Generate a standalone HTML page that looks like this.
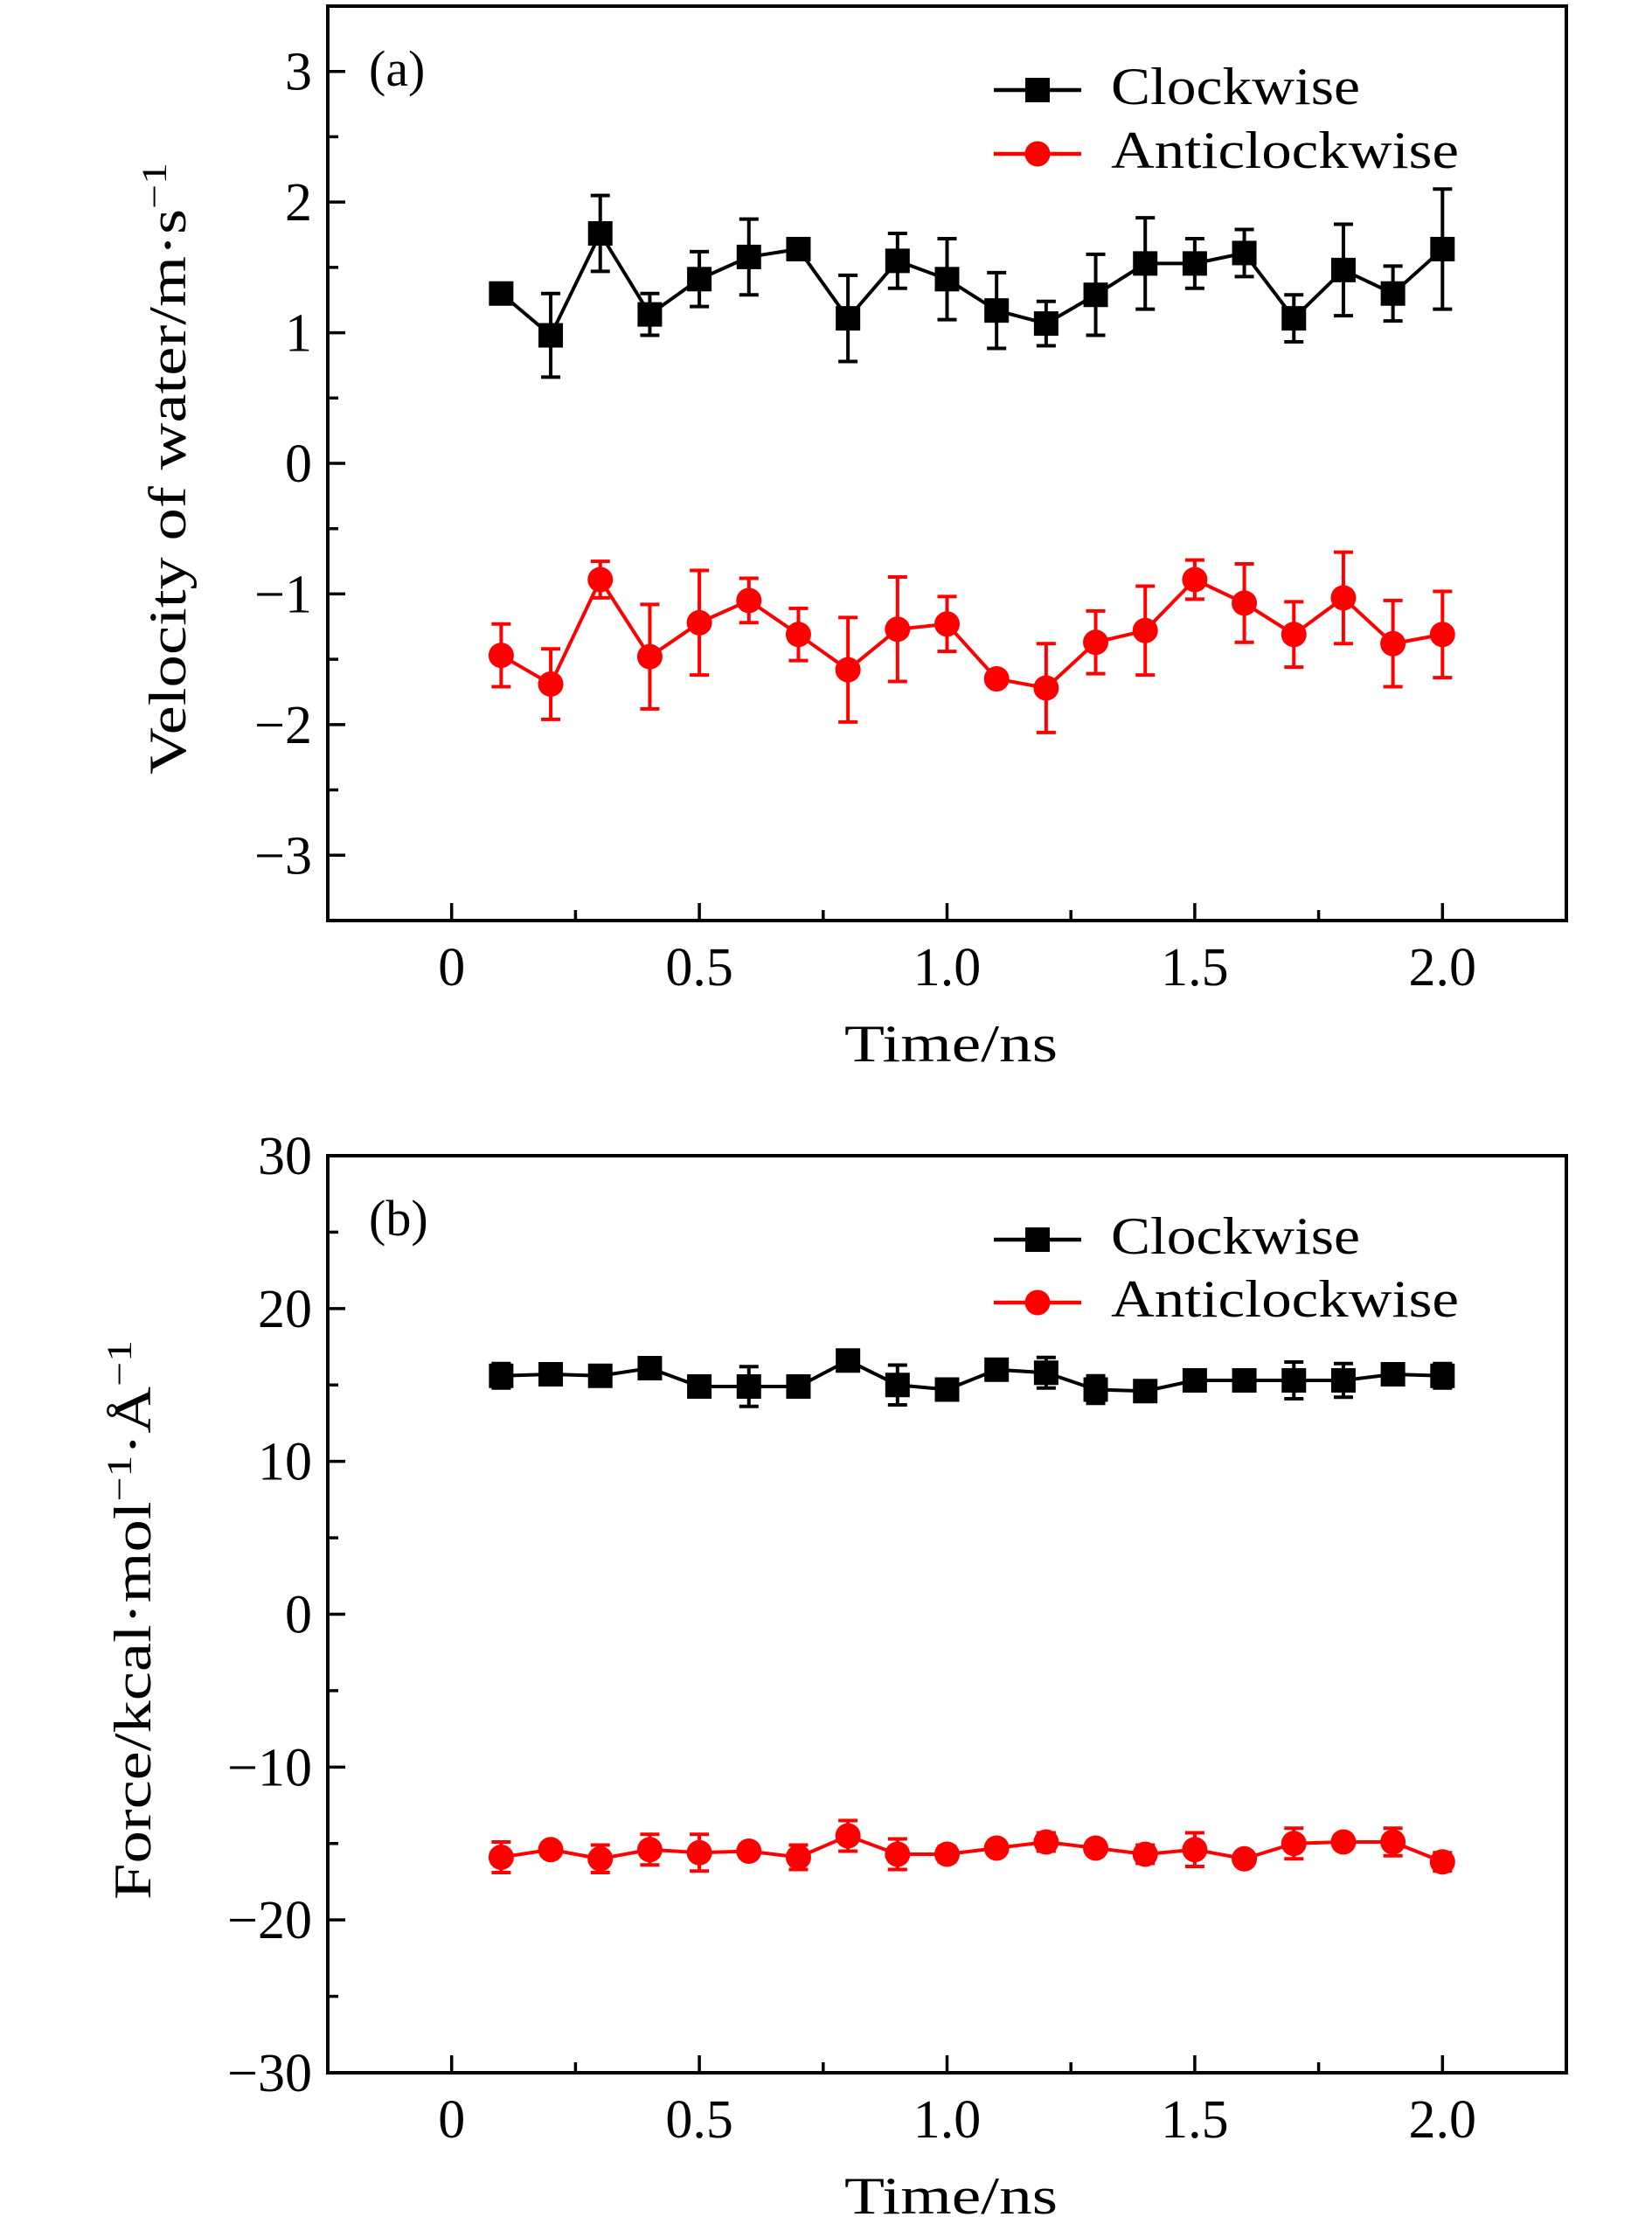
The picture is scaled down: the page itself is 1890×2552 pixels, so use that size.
<!DOCTYPE html>
<html><head><meta charset="utf-8"><style>
html,body{margin:0;padding:0;background:#fff}
svg{display:block}
text{font-family:"Liberation Serif",serif;fill:#000}
</style></head><body>
<svg id="chart" width="1890" height="2552" viewBox="0 0 1890 2552" xmlns="http://www.w3.org/2000/svg"></svg>
<script>
const times=[0.1,0.2,0.3,0.4,0.5,0.6,0.7,0.8,0.9,1.0,1.1,1.2,1.3,1.4,1.5,1.6,1.7,1.8,1.9,2.0];
const velCw=[1.30,0.98,1.76,1.14,1.41,1.58,1.64,1.11,1.55,1.41,1.17,1.07,1.29,1.53,1.53,1.61,1.11,1.48,1.30,1.64];
const velCwErr=[0.05,0.32,0.29,0.16,0.21,0.29,0.05,0.33,0.21,0.31,0.29,0.17,0.31,0.35,0.19,0.18,0.18,0.35,0.21,0.46];
const velAcw=[-1.47,-1.69,-0.89,-1.48,-1.22,-1.05,-1.31,-1.58,-1.27,-1.23,-1.65,-1.72,-1.37,-1.28,-0.89,-1.07,-1.31,-1.03,-1.38,-1.31];
const velAcwErr=[0.24,0.27,0.14,0.40,0.40,0.17,0.20,0.40,0.40,0.21,0.05,0.34,0.24,0.34,0.15,0.30,0.25,0.35,0.33,0.33];
const forCw=[15.6,15.7,15.6,16.1,14.9,14.9,14.9,16.6,15.0,14.7,16.0,15.8,14.7,14.6,15.3,15.3,15.3,15.3,15.7,15.6];
const forCwErr=[0.8,0.3,0.3,0.3,0.4,1.3,0.3,0.3,1.3,0.4,0.3,1.0,0.9,0.3,0.3,0.3,1.2,1.1,0.3,0.8];
const forAcw=[-15.9,-15.4,-16.0,-15.4,-15.6,-15.5,-15.9,-14.5,-15.7,-15.7,-15.3,-14.9,-15.3,-15.7,-15.4,-16.0,-15.0,-14.9,-14.9,-16.2];
const forAcwErr=[1.0,0.4,0.9,1.0,1.2,0.4,0.8,1.0,1.0,0.5,0.4,0.6,0.3,0.6,1.1,0.3,1.0,0.3,0.9,0.6];
const xTicks=[0,0.5,1.0,1.5,2.0];
const xTickLabels=["0","0.5","1.0","1.5","2.0"];
const velTicks=[-3,-2,-1,0,1,2,3];
const velTickLabels=["−3","−2","−1","0","1","2","3"];
const forTicks=[-30,-20,-10,0,10,20,30];
const forTickLabels=["−30","−20","−10","0","10","20","30"];

const NS="http://www.w3.org/2000/svg";
const svg=document.getElementById('chart');
function mk(tag,attrs,parent){const e=document.createElementNS(NS,tag);for(const k in attrs)e.setAttribute(k,attrs[k]);(parent||svg).appendChild(e);return e;}

function panel(cfg){
  const g=mk('g',{});
  
  
  const L=375,R=1792,T=cfg.top,B=cfg.bottom;
  const xs=v=>L+(v-(-0.25))/(2.5)*(R-L);
  const ys=v=>B-(v-cfg.ymin)/(cfg.ymax-cfg.ymin)*(B-T);
  const frame=mk('rect',{x:L,y:T,width:R-L,height:B-T,fill:'none',stroke:'#000','stroke-width':4},g);
  
  
  for(let v=0;v<=2.0001;v+=0.25){
    const major=Math.abs(v*2-Math.round(v*2))<1e-6;
    const t=mk('line',{x1:xs(v),x2:xs(v),y1:B,y2:B-(major?20:12),stroke:'#000','stroke-width':3.5},g);
    
    
  }
  xTicks.forEach((v,i)=>{
    const t=mk('text',{x:xs(v),y:B+74,'font-size':62,'text-anchor':'middle'},g);
    t.textContent=xTickLabels[i];
    
    
  });
  const step=(cfg.yticks[1]-cfg.yticks[0])/2;
  for(let v=cfg.yticks[0];v<=cfg.yticks[cfg.yticks.length-1]+1e-6;v+=step){
    const major=Math.abs((v-cfg.yticks[0])/step%2)<1e-6;
    const t=mk('line',{x1:L,x2:L+(major?20:12),y1:ys(v),y2:ys(v),stroke:'#000','stroke-width':3.5},g);
    
    
  }
  cfg.yticks.forEach((v,i)=>{
    const t=mk('text',{x:357,y:ys(v)+21,'font-size':62,'text-anchor':'end'},g);
    t.textContent=cfg.ylabels[i];
    
    
  });
  const xt=mk('text',{x:1088,y:cfg.xtitleY,'font-size':60,'text-anchor':'middle',textLength:244,lengthAdjust:'spacingAndGlyphs'},g);
  xt.textContent='Time/ns';
  
  
  const yt=mk('text',{x:0,y:0,'font-size':60,'text-anchor':'middle',transform:`translate(${cfg.ytitleX},${cfg.ytitleY}) rotate(-90)`,textLength:cfg.ytitleLen,lengthAdjust:'spacingAndGlyphs'},g);
  yt.innerHTML=cfg.ytitle;
  
  
  const pl=mk('text',{x:422,y:cfg.labelY,'font-size':58},g);
  pl.textContent=cfg.label;
  
  
  const series=[{v:cfg.cw,e:cfg.cwErr,c:'#000',shape:'square',n:'clockwise'},{v:cfg.acw,e:cfg.acwErr,c:'#ff0000',shape:'circle',n:'anticlockwise'}];
  series.forEach(s=>{
    const sg=mk('g',{},g);
    
    
    const pts=times.map((t,i)=>xs(t)+','+ys(s.v[i])).join(' ');
    const line=mk('polyline',{points:pts,fill:'none',stroke:s.c,'stroke-width':4},sg);
    
    
    times.forEach((t,i)=>{
      const x=xs(t),y1=ys(s.v[i]+s.e[i]),y2=ys(s.v[i]-s.e[i]);
      const eb=mk('path',{d:`M${x},${y1}V${y2}M${x-11},${y1}H${x+11}M${x-11},${y2}H${x+11}`,stroke:s.c,'stroke-width':4,fill:'none'},sg);
      
      
      let m;
      if(s.shape==='square') m=mk('rect',{x:x-14,y:ys(s.v[i])-14,width:28,height:28,fill:s.c},sg);
      else m=mk('circle',{cx:x,cy:ys(s.v[i]),r:14.5,fill:s.c},sg);
      
      
    });
  });
  const lg=mk('g',{},g);
  
  
  [[cfg.legY1,'#000','square','Clockwise',285],[cfg.legY2,'#ff0000','circle','Anticlockwise',398]].forEach(a=>{
    const e=mk('g',{},lg);
    
    
    mk('line',{x1:1137,x2:1237,y1:a[0],y2:a[0],stroke:a[1],'stroke-width':4.5},e);
    if(a[2]==='square') mk('rect',{x:1173,y:a[0]-14,width:28,height:28,fill:a[1]},e);
    else mk('circle',{cx:1187,cy:a[0],r:14.5,fill:a[1]},e);
    const t=mk('text',{x:1271,y:a[0]+16,'font-size':60,textLength:a[4],lengthAdjust:'spacingAndGlyphs'},e);
    t.textContent=a[3];
  });
}

panel({name:'velocity-panel',top:7,bottom:1053,ymin:-3.5,ymax:3.5,yticks:velTicks,ylabels:velTickLabels,
  cw:velCw,cwErr:velCwErr,acw:velAcw,acwErr:velAcwErr,xtitleY:1214,ytitleX:212,ytitleY:536,ytitleLen:700,
  ytitle:'Velocity of water/m·s<tspan baseline-shift="super" font-size="40">−1</tspan>',label:'(a)',labelY:98,legY1:103,legY2:176});
panel({name:'force-panel',top:1322,bottom:2371,ymin:-30,ymax:30,yticks:forTicks,ylabels:forTickLabels,
  cw:forCw,cwErr:forCwErr,acw:forAcw,acwErr:forAcwErr,xtitleY:2532,ytitleX:172,ytitleY:1853,ytitleLen:640,
  ytitle:'Force/kcal·mol<tspan baseline-shift="super" font-size="40">−1</tspan>·Å<tspan baseline-shift="super" font-size="40">−1</tspan>',label:'(b)',labelY:1413,legY1:1418,legY2:1490});
</script>
</body></html>
